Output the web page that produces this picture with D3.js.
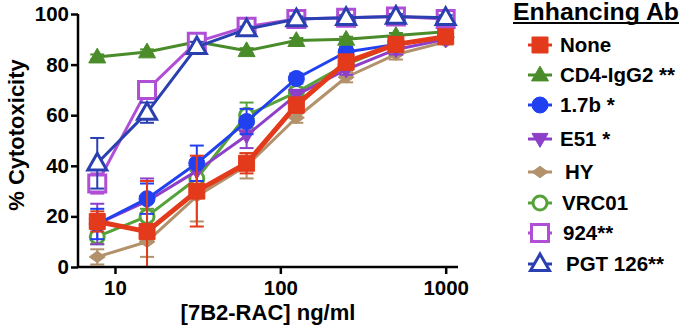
<!DOCTYPE html>
<html><head><meta charset="utf-8">
<script src="https://cdn.jsdelivr.net/npm/d3@7"></script>
<style>body{margin:0;background:#fff}svg{display:block;font-family:"Liberation Sans",Arial,sans-serif;font-weight:bold}</style>
</head><body><svg id="c" width="680" height="332"></svg>
<script>
const concentrations = [7.8125, 15.625, 31.25, 62.5, 125, 250, 500, 1000];
const seriesNames = ["None", "CD4-IgG2 **", "1.7b *", "E51 *", "HY", "VRC01", "924**", "PGT 126**"];
const noneVals   = [18, 14, 30, 41, 64, 81, 88, 91];
const noneErr    = [4, 20, 14, 4, 3, 3, 2, 2];
const cd4Vals    = [83, 85, 89, 85.5, 89.5, 90, 91.5, 93];
const cd4Err     = [1, 1, 1, 1, 1, 1, 1, 1];
const b17Vals    = [17, 27, 41, 57.5, 74.5, 85, 88, 91];
const b17Err     = [6, 6, 7, 5, 2, 2, 1, 1];
const e51Vals    = [17, 26, 38, 52, 68, 78, 86, 90];
const e51Err     = [8, 9, 4, 5, 2, 2, 2, 1];
const hyVals     = [4, 10, 28, 40, 59, 75, 84, 89];
const hyErr      = [3, 6, 10, 5, 2, 2, 2, 1];
const vrcVals    = [12, 20, 35, 60, 69, 80, 88, 91];
const vrcErr     = [3, 3, 3, 5, 2, 2, 1, 1];
const n924Vals   = [33, 70, 89, 95, 98, 98.5, 99, 98];
const n924Err    = [4, 2, 1, 1, 1, 1, 1, 1];
const pgtVals    = [41, 61, 87, 94, 98, 98.5, 99, 98.5];
const pgtErr     = [10, 4, 2, 1, 1, 1, 1, 1];
const yTicks = [0, 20, 40, 60, 80, 100];
const xTicks = [10, 100, 1000];

const svg = d3.select("#c");
const x = d3.scaleLog().domain([5.975, 1187]).range([78, 458]);
const y = d3.scaleLinear().domain([0, 100]).range([267, 14]);

const shapes = {
  square: s => `M${-s/2},${-s/2}h${s}v${s}h${-s}Z`,
  tri: s => { const h = s*0.87; return `M0,${-h*0.6}L${s/2},${h*0.4}L${-s/2},${h*0.4}Z`; },
  itri: s => { const h = s*0.87; return `M0,${h*0.6}L${s/2},${-h*0.4}L${-s/2},${-h*0.4}Z`; },
  circle: s => { const r = s/2; return `M${r},0A${r},${r} 0 1,1 ${-r},0A${r},${r} 0 1,1 ${r},0Z`; },
  diamond: s => `M0,${-s*0.36}L${s/2},0L0,${s*0.36}L${-s/2},0Z`
};

const series = [
  {name: seriesNames[0], vals: noneVals, err: noneErr, color: "#e33a1c", shape: "square", size: 16, fill: true, lw: 5},
  {name: seriesNames[1], vals: cd4Vals, err: cd4Err, color: "#4a8c2a", shape: "tri", size: 17, fill: true, lw: 3},
  {name: seriesNames[2], vals: b17Vals, err: b17Err, color: "#2141f0", shape: "circle", size: 16, fill: true, lw: 3},
  {name: seriesNames[3], vals: e51Vals, err: e51Err, color: "#8d3fc9", shape: "itri", size: 16, fill: true, lw: 3},
  {name: seriesNames[4], vals: hyVals, err: hyErr, color: "#b2916b", shape: "diamond", size: 16, fill: true, lw: 3},
  {name: seriesNames[5], vals: vrcVals, err: vrcErr, color: "#56a23a", shape: "circle", size: 14, fill: false, lw: 3},
  {name: seriesNames[6], vals: n924Vals, err: n924Err, color: "#b04fd6", shape: "square", size: 17, fill: false, lw: 3},
  {name: seriesNames[7], vals: pgtVals, err: pgtErr, color: "#2a3fb0", shape: "tri", size: 19, fill: false, lw: 3}
];

const drawOrder = [4, 5, 3, 2, 1, 6, 7, 0];
const line = d3.line().x(d => x(d[0])).y(d => y(d[1]));
const plot = svg.append("g");

drawOrder.forEach(i => {
  const s = series[i];
  const pts = concentrations.map((c, j) => [c, s.vals[j], s.err[j]]);
  const g = plot.append("g");
  pts.forEach(p => {
    const lo = Math.max(0, p[1] - p[2]), hi = p[1] + p[2];
    g.append("line").attr("x1", x(p[0])).attr("x2", x(p[0])).attr("y1", y(lo)).attr("y2", y(hi))
      .attr("stroke", s.color).attr("stroke-width", 2);
    g.append("line").attr("x1", x(p[0]) - 7).attr("x2", x(p[0]) + 7).attr("y1", y(hi)).attr("y2", y(hi))
      .attr("stroke", s.color).attr("stroke-width", 2);
    if (p[1] - p[2] > 0)
      g.append("line").attr("x1", x(p[0]) - 7).attr("x2", x(p[0]) + 7).attr("y1", y(lo)).attr("y2", y(lo))
        .attr("stroke", s.color).attr("stroke-width", 2);
  });
  g.append("path").attr("d", line(pts)).attr("fill", "none").attr("stroke", s.color)
    .attr("stroke-width", s.lw).attr("stroke-linejoin", "round");
  g.selectAll("path.m").data(pts).enter().append("path").attr("class", "m")
    .attr("transform", d => `translate(${x(d[0])},${y(d[1])})`)
    .attr("d", shapes[s.shape](s.size))
    .attr("fill", s.fill ? s.color : "#fff")
    .attr("stroke", s.color).attr("stroke-width", s.fill ? 1 : 3);
});

const yAxis = svg.append("g").attr("transform", "translate(78,0)")
  .call(d3.axisLeft(y).tickValues(yTicks).tickSize(7).tickPadding(2));
const xAxis = svg.append("g").attr("transform", "translate(0,267)")
  .call(d3.axisBottom(x).tickValues(xTicks).tickFormat(d3.format("d")).tickSize(7).tickPadding(6));
[yAxis, xAxis].forEach(a => {
  a.select(".domain").attr("stroke", "#000").attr("stroke-width", 2.5);
  a.selectAll(".tick line").attr("stroke", "#000").attr("stroke-width", 2.5);
  a.selectAll(".tick text").attr("fill", "#000").style("font-size", "20.5px").style("font-weight", "bold")
    .style("font-family", "'Liberation Sans',Arial,sans-serif");
});
yAxis.select(".domain").attr("d", `M0,${y(0)}V${y(100)}`);
xAxis.select(".domain").attr("d", "M78,0H458");

svg.append("text").attr("transform", "translate(24,135) rotate(-90)").attr("text-anchor", "middle")
  .style("font-size", "22px").text("% Cytotoxicity");
svg.append("text").attr("x", 268).attr("y", 320).attr("text-anchor", "middle")
  .style("font-size", "22px").text("[7B2-RAC] ng/ml");

const lg = svg.append("g");
lg.append("text").attr("x", 513).attr("y", 19.5).style("font-size", "23px")
  .attr("textLength", 166).attr("lengthAdjust", "spacingAndGlyphs").text("Enhancing Ab");
lg.append("line").attr("x1", 513).attr("x2", 679).attr("y1", 23).attr("y2", 23).attr("stroke", "#000").attr("stroke-width", 2);
const legY = [45, 75, 105, 139, 172, 203, 233, 264];
const legTX = [560, 560, 560, 560, 565, 562, 563, 566];
series.forEach((s, i) => {
  const g = lg.append("g").attr("transform", `translate(540,${legY[i]})`);
  g.append("line").attr("x1", -12).attr("x2", 12).attr("stroke", s.color).attr("stroke-width", 3);
  g.append("path").attr("d", shapes[s.shape](s.size)).attr("fill", s.fill ? s.color : "#fff")
    .attr("stroke", s.color).attr("stroke-width", s.fill ? 1 : 3);
  lg.append("text").attr("x", legTX[i]).attr("y", legY[i] + 7).style("font-size", "20.5px").text(s.name);
});
</script></body></html>
